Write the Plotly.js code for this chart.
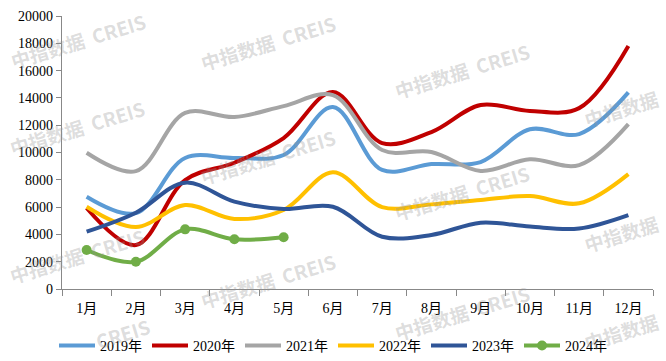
<!DOCTYPE html>
<html>
<head>
<meta charset="utf-8">
<script src="https://cdn.plot.ly/plotly-3.0.1.min.js"></script>
<style>html,body{margin:0;padding:0;background:#fff;}#chart{width:666px;height:361px;}</style>
</head>
<body>
<div id="chart"></div>
<script>
const months = ["1月","2月","3月","4月","5月","6月","7月","8月","9月","10月","11月","12月"];
const seriesNames = ["2019年","2020年","2021年","2022年","2023年","2024年"];
const v2019 = [6760, 5560, 9600, 9600, 9820, 13330, 8720, 9150, 9300, 11700, 11350, 14400];
const v2020 = [5930, 3220, 7980, 9250, 11060, 14430, 10690, 11500, 13480, 13040, 13250, 17800];
const v2021 = [9980, 8640, 12900, 12600, 13400, 14200, 10180, 10040, 8650, 9500, 9080, 12080];
const v2022 = [6030, 4540, 6150, 5130, 5790, 8550, 6000, 6200, 6520, 6810, 6280, 8420];
const v2023 = [4200, 5590, 7790, 6400, 5860, 6030, 3830, 3960, 4860, 4570, 4440, 5420];
const v2024 = [2860, 2000, 4370, 3640, 3790];
const yTicks = [0, 2000, 4000, 6000, 8000, 10000, 12000, 14000, 16000, 18000, 20000];
const watermarkText = "中指数据  CREIS";
const watermarkCN = "中指数据";
const watermarkEN = "CREIS";

const colors = ["#5B9BD5", "#C00000", "#A5A5A5", "#FFC000", "#2F5597", "#70AD47"];
const allVals = [v2019, v2020, v2021, v2022, v2023, v2024];

const traces = allVals.map((vals, i) => ({
  x: months.slice(0, vals.length),
  y: vals,
  name: seriesNames[i],
  type: "scatter",
  mode: i === 5 ? "lines+markers" : "lines",
  line: {color: colors[i], width: 4, shape: "spline", smoothing: 1},
  marker: {color: colors[i], size: 10},
  cliponaxis: false
}));

// watermark tile centers in pixels (layout only): [x, y, which text]
const wmPx = [
  [78,40,0],[77,127,0],[77,255,0],[122,333,2],
  [268,42,0],[268,157,0],[268,280,0],
  [462,70,0],[462,193,0],[462,312,0],
  [621,108,1],[621,233,1],[621,331,1]
];
const wmTexts = [watermarkText, watermarkCN, watermarkEN];
const L = 62, T = 16, W = 591, H = 273;
const annotations = wmPx.map(p => ({
  text: wmTexts[p[2]],
  xref: "paper", yref: "paper",
  x: (p[0] - L) / W, y: (T + H - p[1]) / H,
  xanchor: "center", yanchor: "middle",
  showarrow: false, textangle: -17,
  font: {family: "Noto Sans CJK SC, Noto Sans", size: 19, color: "rgba(150,150,150,0.32)", weight: 700}
}));

const fontFam = "Liberation Serif, Noto Sans CJK SC";
const layout = {
  width: 666, height: 361,
  margin: {l: L, r: 666 - L - W, t: T, b: 361 - T - H, autoexpand: false},
  paper_bgcolor: "#fff", plot_bgcolor: "#fff",
  showlegend: true,
  legend: {orientation: "h", xref: "container", yref: "container",
           x: 0.5, xanchor: "center", y: 0.042, yanchor: "middle",
           font: {family: fontFam, size: 14, color: "#000"}, itemwidth: 36, tracegroupgap: 0},
  xaxis: {
    type: "category", categoryorder: "array", categoryarray: months,
    range: [-0.5, 11.5],
    showline: true, linecolor: "#888", linewidth: 1.3,
    ticks: "outside", tickson: "boundaries", ticklen: 6, tickcolor: "#888",
    ticklabelstandoff: 6,
    showgrid: false, zeroline: false,
    tickfont: {family: fontFam, size: 14, color: "#000"}
  },
  yaxis: {
    range: [0, 20000], tickvals: yTicks, ticktext: yTicks.map(String),
    showline: true, linecolor: "#888", linewidth: 1.3,
    ticks: "outside", ticklen: 5, tickcolor: "#888",
    showgrid: false, zeroline: false,
    tickfont: {family: fontFam, size: 14, color: "#000"}
  },
  annotations: annotations
};

Plotly.newPlot("chart", traces, layout, {displayModeBar: false, staticPlot: true});
</script>
</body>
</html>
